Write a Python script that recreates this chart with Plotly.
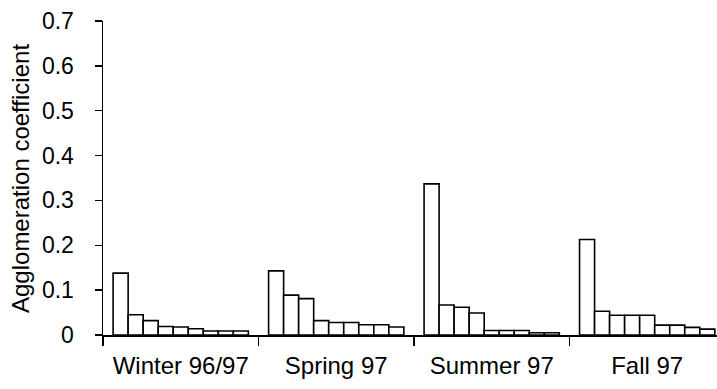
import plotly.graph_objects as go

seasons = ["Winter 96/97", "Spring 97", "Summer 97", "Fall 97"]
winter = [0.138, 0.045, 0.032, 0.019, 0.018, 0.014, 0.009, 0.009, 0.009]
spring = [0.143, 0.089, 0.081, 0.032, 0.028, 0.028, 0.023, 0.023, 0.018]
summer = [0.337, 0.067, 0.062, 0.049, 0.010, 0.010, 0.010, 0.005, 0.005]
fall = [0.213, 0.053, 0.044, 0.044, 0.044, 0.022, 0.022, 0.017, 0.013]
y_ticks = [0, 0.1, 0.2, 0.3, 0.4, 0.5, 0.6, 0.7]
y_ticklabels = ["0", "0.1", "0.2", "0.3", "0.4", "0.5", "0.6", "0.7"]
y_title = "Agglomeration coefficient"

series = [winter, spring, summer, fall]
FONT = "Liberation Sans, Arial, sans-serif"
L, R, T, B, W, H = 103, 0, 21, 54, 717, 389

fig = go.Figure()
for i in range(len(winter)):
    fig.add_trace(go.Bar(
        x=seasons,
        y=[s[i] for s in series],
        marker=dict(color="white", line=dict(color="black", width=1.6)),
        showlegend=False,
    ))

fig.update_layout(
    width=W, height=H,
    margin=dict(l=L, r=R, t=T, b=B, autoexpand=False),
    barmode="group", bargap=0.13, bargroupgap=0,
    plot_bgcolor="white", paper_bgcolor="white",
    font=dict(family=FONT, size=24, color="black"),
)
fig.update_xaxes(
    type="category", range=[-0.5, 3.449], automargin=False,
    showline=True, linecolor="black", linewidth=1.5,
    ticks="outside", tickson="boundaries", ticklen=9, tickcolor="black", tickwidth=1.5,
    showgrid=False, zeroline=False, ticklabelstandoff=9,
)
fig.update_yaxes(
    range=[0, 0.7], tickvals=y_ticks, ticktext=y_ticklabels, automargin=False,
    showline=True, linecolor="black", linewidth=1.5,
    ticks="outside", ticklen=7, tickcolor="black", tickwidth=1.5,
    showgrid=False, zeroline=False, ticklabelstandoff=16,
    tickfont=dict(size=23),
)
pw = W - L - R
fig.add_annotation(
    text=y_title, textangle=-90, showarrow=False,
    xref="paper", yref="paper", x=(20 - L) / pw, y=(H - B - (43 + 315) / 2) / (H - T - B),
    xanchor="center", yanchor="middle", font=dict(size=24),
)
fig.write_html(
    "out.html",
    config={"displayModeBar": False, "staticPlot": True},
    post_script="document.body.style.margin='0';document.body.style.overflow='hidden';",
)
